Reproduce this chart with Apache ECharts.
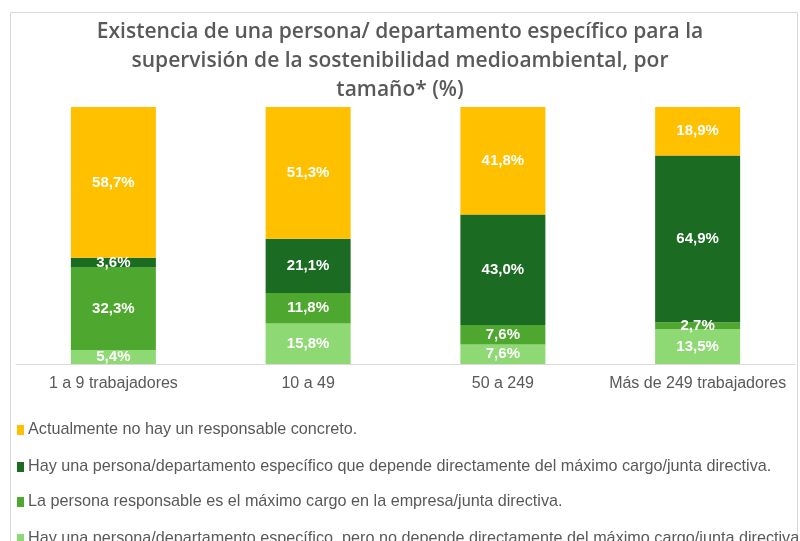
<!DOCTYPE html>
<html><head><meta charset="utf-8">
<script src="https://cdn.jsdelivr.net/npm/echarts@6/dist/echarts.min.js"></script>
<style>html,body{margin:0;padding:0;background:#fff}#c{width:800px;height:541px}</style>
</head><body><div id="c"></div>
<script>
var categories = ['1 a 9 trabajadores', '10 a 49', '50 a 249', 'Más de 249 trabajadores'];
var seriesNames = [
  'Hay una persona/departamento específico, pero no depende directamente del máximo cargo/junta directiva.',
  'La persona responsable es el máximo cargo en la empresa/junta directiva.',
  'Hay una persona/departamento específico que depende directamente del máximo cargo/junta directiva.',
  'Actualmente no hay un responsable concreto.'
];
var lightGreen = [5.4, 15.8, 7.6, 13.5];
var midGreen = [32.3, 11.8, 7.6, 2.7];
var darkGreen = [3.6, 21.1, 43.0, 64.9];
var yellow = [58.7, 51.3, 41.8, 18.9];
var colors = ['#8ED973', '#4EA72E', '#1B6B22', '#FFC000'];
var values = [lightGreen, midGreen, darkGreen, yellow];

var chart = echarts.init(document.getElementById('c'), null, {renderer: 'canvas'});
var series = values.map(function (v, i) {
  return {
    name: seriesNames[i], type: 'bar', stack: 'total', barWidth: 85,
    data: v,
    itemStyle: {color: colors[i]},
    label: {
      show: true, position: 'inside', color: '#ffffff',
      fontFamily: 'Liberation Sans Narrow, Liberation Sans, Arial', fontWeight: 'bold', fontSize: 15,
      formatter: function (p) { return p.value.toFixed(1).replace('.', ',') + '%'; }
    }
  };
});
var legendTops = [422, 459, 494, 531];
var legendOrder = seriesNames.slice().reverse();
var legends = legendOrder.map(function (n, i) {
  return {
    left: 17, top: legendTops[i], itemWidth: 7, itemHeight: 10, icon: 'rect', padding: 0,
    data: [n], selectedMode: false,
    textStyle: {color: '#595959', fontSize: 16.2, fontFamily: 'Liberation Sans', padding: [0, 0, 0, -1]}
  };
});
chart.setOption({
  animation: false,
  title: {
    text: 'Existencia de una persona/ departamento específico para la\nsupervisión de la sostenibilidad medioambiental, por\ntamaño* (%)',
    left: 'center', top: 13,
    textStyle: {fontFamily: 'Open Sans', fontWeight: 600, fontSize: 21, color: '#595959', lineHeight: 29}
  },
  graphic: [{type: 'rect', shape: {x: 10.5, y: 12.5, width: 787, height: 540}, style: {fill: 'none', stroke: '#d9d9d9', lineWidth: 1}, silent: true, z: -1}],
  grid: {left: 16, right: 5, top: 107, bottom: 177},
  xAxis: {
    type: 'category', data: categories,
    axisLine: {lineStyle: {color: '#d9d9d9'}}, axisTick: {show: false},
    axisLabel: {interval: 0, color: '#595959', fontSize: 16, fontFamily: 'Liberation Sans', margin: 12}
  },
  yAxis: {type: 'value', min: 0, max: 100, show: false, splitLine: {show: false}},
  legend: legends,
  series: series
});
</script></body></html>
